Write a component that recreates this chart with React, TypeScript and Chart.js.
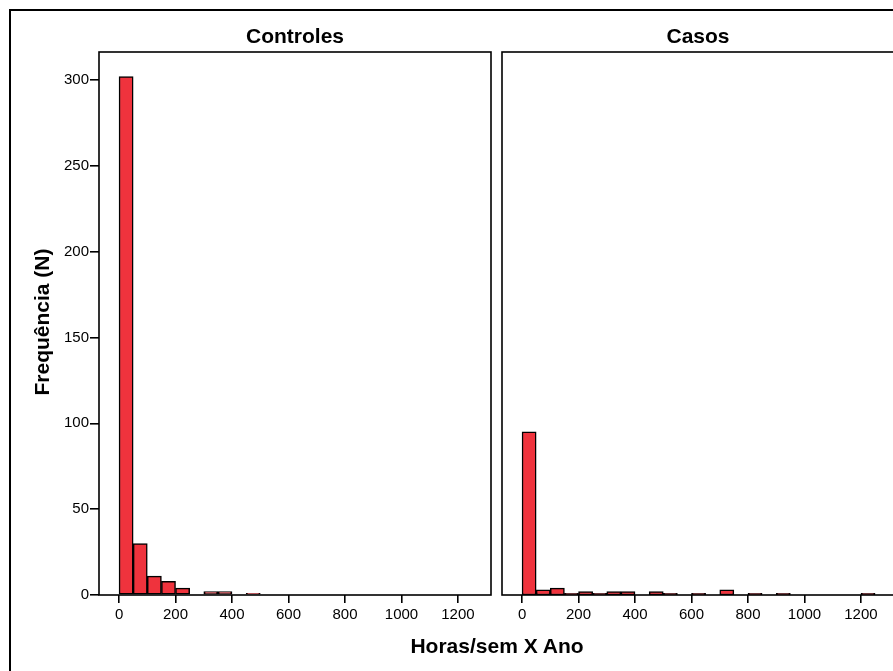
import React, { useEffect, useRef } from "react";
import { Chart, registerables } from "chart.js";

Chart.register(...registerables);

// ---- Data ----
const binStarts = [0, 50, 100, 150, 200, 250, 300, 350, 400, 450, 500, 550, 600, 650, 700, 750, 800, 850, 900, 950, 1000, 1050, 1100, 1150, 1200];
const binWidth = 50;
const controlesCounts = [302, 30, 11, 8, 4, 0, 2, 2, 0, 1, 0, 0, 0, 0, 0, 0, 0, 0, 0, 0, 0, 0, 0, 0, 0];
const casosCounts = [95, 3, 4, 1, 2, 1, 2, 2, 0, 2, 1, 0, 1, 0, 3, 0, 1, 0, 1, 0, 0, 0, 0, 0, 1];
const xTickValues = [0, 200, 400, 600, 800, 1000, 1200];
const yTickValues = [0, 50, 100, 150, 200, 250, 300];
const panelTitles = ["Controles", "Casos"];
const xAxisTitle = "Horas/sem X Ano";
const yAxisTitle = "Frequência (N)";

const X_MIN = -71;
const X_MAX = 1317;
const Y_MAX = 316.3;

const FONT = "'Liberation Sans', Arial, Helvetica, sans-serif";
const BAR_RED = "#EF333D";

const framePlugin = {
  id: "panelFrame",
  afterDraw(chart: any) {
    const { ctx, chartArea } = chart;
    const { left, top, right, bottom } = chartArea;
    ctx.save();
    ctx.strokeStyle = "#000";
    ctx.lineWidth = 1.6;
    ctx.strokeRect(left, top, right - left, bottom - top);
    ctx.restore();
  },
};

type PanelProps = {
  counts: number[];
  showY: boolean;
  left: number;
  top: number;
  width: number;
  height: number;
  padding: { left: number; right: number; top: number; bottom: number };
};

function Panel({ counts, showY, left, top, width, height, padding }: PanelProps) {
  const ref = useRef<HTMLCanvasElement | null>(null);
  useEffect(() => {
    if (!ref.current) return;
    const data = binStarts.map((s, i) => ({ x: s + binWidth / 2, y: counts[i] }));
    const chart = new Chart(ref.current, {
      type: "bar",
      data: {
        datasets: [
          {
            data,
            backgroundColor: BAR_RED,
            borderColor: "#000",
            borderWidth: 1.5,
            borderSkipped: false,
            barPercentage: 1,
            categoryPercentage: 1,
          } as any,
        ],
      },
      plugins: [framePlugin],
      options: {
        responsive: false,
        animation: false,
        devicePixelRatio: 1,
        layout: { padding },
        plugins: {
          legend: { display: false },
          tooltip: { enabled: false },
          title: { display: false },
        },
        scales: {
          x: {
            type: "linear",
            min: X_MIN,
            max: X_MAX,
            offset: false,
            grid: {
              display: true,
              offset: false,
              drawOnChartArea: false,
              drawTicks: true,
              tickLength: 8,
              color: "#000",
              lineWidth: 1.6,
            },
            border: { display: false },
            ticks: {
              color: "#000",
              font: { family: FONT, size: 15 },
              padding: 3,
              maxRotation: 0,
              autoSkip: false,
              callback: (v: any) => String(v),
            },
            afterBuildTicks: (scale: any) => {
              scale.ticks = xTickValues.map((v) => ({ value: v }));
            },
            afterFit: (scale: any) => {
              scale.height = 45;
            },
          },
          y: {
            type: "linear",
            display: showY,
            min: 0,
            max: Y_MAX,
            grid: {
              display: true,
              drawOnChartArea: false,
              drawTicks: true,
              tickLength: 9,
              color: "#000",
              lineWidth: 1.6,
            },
            border: { display: false },
            ticks: {
              color: "#000",
              font: { family: FONT, size: 15 },
              padding: 1,
              autoSkip: false,
              callback: (v: any) => String(v),
            },
            afterBuildTicks: (scale: any) => {
              scale.ticks = yTickValues.map((v) => ({ value: v }));
            },
            afterFit: (scale: any) => {
              scale.width = showY ? 59 : 0;
            },
          },
        },
      } as any,
    });
    return () => chart.destroy();
  }, [counts, showY]);

  return (
    <canvas
      ref={ref}
      width={width}
      height={height}
      style={{ position: "absolute", left, top, width, height }}
    />
  );
}

const titleStyle: React.CSSProperties = {
  position: "absolute",
  fontFamily: FONT,
  fontWeight: "bold",
  fontSize: 21,
  lineHeight: "21px",
  color: "#000",
  textAlign: "center",
  whiteSpace: "nowrap",
};

export default function App() {
  return (
    <div
      style={{
        position: "fixed",
        left: 0,
        top: 0,
        width: 893,
        height: 671,
        overflow: "hidden",
        background: "#fff",
      }}
    >
      <div
        style={{
          position: "absolute",
          left: 9,
          top: 9,
          width: 1200,
          height: 1200,
          border: "2px solid #000",
          boxSizing: "border-box",
        }}
      />
      <Panel
        counts={controlesCounts}
        showY={true}
        left={40}
        top={40}
        width={470}
        height={600}
        padding={{ left: 0, top: 12, right: 19, bottom: 0 }}
      />
      <Panel
        counts={casosCounts}
        showY={false}
        left={492}
        top={40}
        width={420}
        height={600}
        padding={{ left: 10, top: 12, right: 18, bottom: 0 }}
      />
      <div style={{ ...titleStyle, left: 195, top: 25, width: 200 }}>{panelTitles[0]}</div>
      <div style={{ ...titleStyle, left: 598, top: 25, width: 200 }}>{panelTitles[1]}</div>
      <div style={{ ...titleStyle, left: 347, top: 635, width: 300 }}>{xAxisTitle}</div>
      <div
        style={{
          ...titleStyle,
          left: 42 - 150,
          top: 322 - 12,
          width: 300,
          height: 24,
          lineHeight: "24px",
          transform: "rotate(-90deg)",
        }}
      >
        {yAxisTitle}
      </div>
    </div>
  );
}
